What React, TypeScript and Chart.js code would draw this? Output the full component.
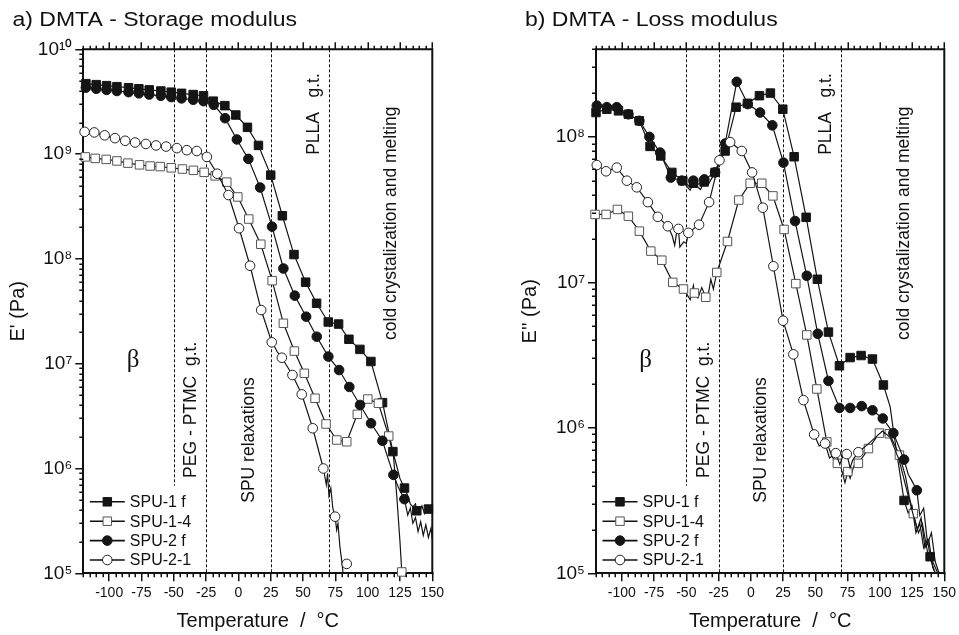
import React, { useEffect, useRef } from 'react';
import { Chart, registerables } from 'chart.js';

Chart.register(...registerables);
Chart.defaults.font.family = '"Liberation Sans", Arial, Helvetica, sans-serif';
Chart.defaults.color = '#111';

// ---------------- data: a) storage modulus E' (Pa) ----------------
// markers (T in °C, value in Pa)
const E1_S1F_T = [-118, -110, -102, -94, -85, -77, -69, -60, -52, -44, -35, -27, -19.5, -10.5, -2, 7, 15.5, 25, 34, 43, 52, 60.5, 69.5, 77.5, 85.5, 94, 102.5, 111.5, 119.5, 128.5, 138, 147];
const E1_S1F_V = [4.7e9, 4.6e9, 4.5e9, 4.4e9, 4.3e9, 4.2e9, 4.1e9, 4.0e9, 3.9e9, 3.8e9, 3.7e9, 3.6e9, 3.2e9, 2.9e9, 2.36e9, 1.8e9, 1.21e9, 6.3e8, 2.58e8, 1.1e8, 6.0e7, 3.77e7, 2.5e7, 2.39e7, 1.71e7, 1.37e7, 1.05e7, 4.25e6, 1.45e6, 6.5e5, 3.95e5, 4.1e5];
const E1_S1F_TR_T = [123, 125, 131, 133, 135, 137, 140, 142, 144, 150];
const E1_S1F_TR_V = [1.0e6, 8.0e5, 5.5e5, 4.6e5, 4.3e5, 4.6e5, 3.9e5, 4.4e5, 3.7e5, 4.3e5];

const E1_S14_T = [-118.5, -110.8, -102.3, -94, -85.5, -76.5, -68.3, -60.5, -52, -43.3, -34.8, -26.5, -18, -9, -0.5, 8, 17.3, 26.1, 34.8, 43.3, 51, 59.3, 67.8, 76.1, 83.8, 92, 100.1, 108.3, 116.3, 126.4];
const E1_S14_V = [9.4e8, 9.1e8, 8.9e8, 8.6e8, 8.2e8, 7.9e8, 7.7e8, 7.6e8, 7.4e8, 7.2e8, 7.0e8, 6.7e8, 6.2e8, 5.4e8, 3.9e8, 2.4e8, 1.38e8, 6.2e7, 2.43e7, 1.32e7, 8.1e6, 4.68e6, 2.66e6, 1.87e6, 1.8e6, 3.29e6, 4.6e6, 4.19e6, 2.04e6, 1.03e5];
const E1_S14_TR_T = [120, 122.5, 125];
const E1_S14_TR_V = [1.3e6, 5.5e5, 2.0e5];

const E1_S2F_T = [-118, -110, -102, -94, -85, -77, -69, -60, -52, -44, -35, -27, -19, -10.3, -1.2, 7.7, 16.8, 26, 34.8, 43.6, 52.4, 60.6, 69.6, 77.9, 85.8, 94.1, 102.6, 111.4, 119.9, 128.4];
const E1_S2F_V = [4.3e9, 4.2e9, 4.1e9, 4.0e9, 3.9e9, 3.8e9, 3.7e9, 3.6e9, 3.5e9, 3.4e9, 3.3e9, 3.2e9, 2.95e9, 2.2e9, 1.38e9, 9.0e8, 4.8e8, 2.03e8, 8.1e7, 4.46e7, 2.81e7, 1.81e7, 1.17e7, 8.7e6, 6.0e6, 4.04e6, 2.7e6, 1.84e6, 8.7e5, 5.1e5];
const E1_S2F_TR_T = [124, 131, 133, 135, 137, 139, 141, 143, 145, 147, 149, 150];
const E1_S2F_TR_V = [6.5e5, 3.6e5, 4.2e5, 3.0e5, 3.4e5, 2.5e5, 3.1e5, 2.3e5, 2.9e5, 2.2e5, 2.7e5, 2.1e5];

const E1_S21_T = [-119, -111.5, -103.5, -95.5, -87.6, -79.9, -71.6, -63.7, -55.9, -47.6, -39.9, -32.2, -24.4, -16.4, -7.7, 0.5, 9, 17.6, 25.8, 33.6, 41.8, 49, 57.5, 65.7, 74.8, 83.8];
const E1_S21_V = [1.63e9, 1.61e9, 1.51e9, 1.42e9, 1.34e9, 1.29e9, 1.25e9, 1.21e9, 1.18e9, 1.14e9, 1.09e9, 1.07e9, 9.4e8, 6.5e8, 4.07e8, 1.96e8, 8.6e7, 3.25e7, 1.6e7, 1.14e7, 7.8e6, 5.1e6, 2.42e6, 1.0e6, 3.47e5, 1.23e5];
const E1_S21_TR_T = [28, 30, 68, 69, 70, 71.5, 73, 76, 77, 78.5, 80, 81, 82];
const E1_S21_TR_V = [1.45e7, 1.3e7, 7.0e5, 9.0e5, 5.5e5, 6.5e5, 4.2e5, 2.6e5, 3.0e5, 1.8e5, 1.3e5, 1.0e5, null];

// ---------------- data: b) loss modulus E'' (Pa) ----------------
const E2_S1F_T = [-120, -111.6, -102.6, -94.9, -86.4, -78.1, -69.8, -61.2, -52.7, -44.5, -36.2, -27.7, -19.9, -11.4, -2.6, 6.7, 15.2, 24.8, 33.6, 42.9, 51.6, 60.2, 68.7, 77, 85.5, 94.3, 102.8, 118.8, 139];
const E2_S1F_V = [1.47e8, 1.55e8, 1.51e8, 1.43e8, 1.29e8, 8.6e7, 7.4e7, 5.7e7, 5.0e7, 4.8e7, 4.9e7, 5.7e7, 8.0e7, 1.6e8, 1.7e8, 1.92e8, 2.0e8, 1.55e8, 7.3e7, 2.8e7, 1.05e7, 4.55e6, 2.67e6, 3.04e6, 3.14e6, 2.97e6, 1.97e6, 3.17e5, 1.3e5];
const E2_S1F_TR_T = [-49, -47, -42, -39, -33, 108, 111, 114, 122, 125, 128, 131, 134, 137, 142, 145];
const E2_S1F_TR_V = [4.5e7, 4.3e7, 4.6e7, 4.35e7, 4.7e7, 1.4e6, 9.0e5, 6.0e5, 2.6e5, 2.9e5, 1.9e5, 2.2e5, 1.5e5, 1.7e5, 1.15e5, 1.0e5];

const E2_S14_T = [-120.7, -112.2, -103.4, -94.9, -86.4, -77.5, -69, -60.5, -52.2, -43.7, -34.9, -26.4, -18.1, -9.3, -0.5, 8.5, 17.1, 25.8, 34.9, 43.4, 51.2, 58.9, 67.1, 75.2, 83.4, 91.2, 99.7, 107.4, 115.2, 126];
const E2_S14_V = [2.93e7, 2.93e7, 3.17e7, 2.85e7, 2.25e7, 1.64e7, 1.42e7, 1.0e7, 9.0e6, 8.45e6, 7.9e6, 1.17e7, 1.91e7, 3.68e7, 4.8e7, 4.8e7, 3.93e7, 2.31e7, 9.8e6, 4.35e6, 1.85e6, 8.0e5, 5.7e5, 5.0e5, 5.7e5, 7.2e5, 9.2e5, 9.1e5, 6.5e5, 2.57e5];
const E2_S14_TR_T = [-47, -44.5, -41, -38, -33, -31, -29, 63, 70, 73, 77, 80, 120, 123, 129, 132, 135, 138, 141, 143];
const E2_S14_TR_V = [7.6e6, 9.5e6, 7.8e6, 9.2e6, 8.2e6, 1.05e7, 9.0e6, 6.3e5, 5.3e5, 4.2e5, 4.5e5, 5.5e5, 4.6e5, 3.3e5, 2.0e5, 2.4e5, 1.5e5, 1.7e5, 1.1e5, 1.0e5];

const E2_S2F_T = [-119.4, -111.6, -103.9, -94.9, -86.4, -78.6, -70.3, -62, -53.5, -44.5, -36, -27.7, -19.9, -10.9, -2.3, 7.2, 16.7, 25.3, 34.3, 43.4, 51.9, 60.2, 68.7, 77, 86, 94.3, 102.3, 110.5, 118.8, 128.7];
const E2_S2F_V = [1.64e8, 1.6e8, 1.6e8, 1.43e8, 1.29e8, 1.0e8, 7.8e7, 5.25e7, 5.0e7, 5.0e7, 5.1e7, 5.7e7, 9.0e7, 2.39e8, 1.68e8, 1.47e8, 1.2e8, 6.65e7, 2.64e7, 1.11e7, 4.43e6, 2.1e6, 1.37e6, 1.37e6, 1.41e6, 1.32e6, 1.16e6, 9.2e5, 6.05e5, 3.72e5];
const E2_S2F_TR_T = [-48, -41, 122, 125, 131, 134, 137, 140, 143, 146];
const E2_S2F_TR_V = [4.6e7, 4.7e7, 4.8e5, 4.3e5, 2.5e5, 2.8e5, 1.6e5, 1.9e5, 1.2e5, 1.0e5];

const E2_S21_T = [-119.4, -112.2, -103.9, -96.1, -88.4, -79.8, -72.1, -64.3, -56.1, -48.4, -40.1, -32.3, -24.3, -16, -7, 1, 9.3, 17.5, 25, 33, 40.8, 49.1, 57.6, 65.9, 74.4, 83.4];
const E2_S21_V = [6.4e7, 5.8e7, 6.15e7, 5.0e7, 4.5e7, 3.56e7, 2.82e7, 2.43e7, 2.33e7, 2.19e7, 2.49e7, 3.56e7, 6.9e7, 9.2e7, 8.0e7, 5.7e7, 3.26e7, 1.29e7, 5.45e6, 3.2e6, 1.55e6, 9.0e5, 7.8e5, 6.7e5, 6.6e5, 6.8e5];
const E2_S21_TR_T = [-61, -59, -57.5, -55, -52, -50, 53, 61, 69, 71, 77, 79, 90, 96, 102, 108, 115, 120, 126, 130, 133, 137, 140, 143];
const E2_S21_TR_V = [2.1e7, 1.8e7, 2.2e7, 1.75e7, 1.9e7, 1.85e7, 7.5e5, 6.2e5, 5.6e5, 6.3e5, 5.3e5, 6.0e5, 7.6e5, 8.5e5, 9.5e5, 8.6e5, 6.0e5, 4.0e5, 2.5e5, 1.9e5, 2.2e5, 1.4e5, 1.2e5, 1.0e5];

// ---------------- labels / ticks ----------------
const SERIES_LABELS = ['SPU-1 f', 'SPU-1-4', 'SPU-2 f', 'SPU-2-1'];
const X_TICKS = [-100, -75, -50, -25, 0, 25, 50, 75, 100, 125, 150];
const Y1_TICKS = [1e5, 1e6, 1e7, 1e8, 1e9, 1e10];
const Y2_TICKS = [1e5, 1e6, 1e7, 1e8];
const DASH_T = [-50, -25, 25, 70];
const NOTE_TEXT = ['PEG - PTMC  g.t.', 'SPU relaxations', 'PLLA   g.t.', 'cold crystalization and melting'];
const NOTE_T = [-32.5, 12, 62, 122.3];
const BETA_TEXT = 'β';
const BETA_T = -81.5;

// ---------------- styles ----------------
const STYLES = [
  { shape: 'rect', fill: '#151515', stroke: '#151515', r: 6 },
  { shape: 'rect', fill: '#ffffff', stroke: '#555555', r: 6 },
  { shape: 'circle', fill: '#151515', stroke: '#151515', r: 4.8 },
  { shape: 'circle', fill: '#ffffff', stroke: '#222222', r: 4.8 },
];
const DASH_TO = [0.833, 1, 1, 1];
const NOTE_YF = [0.688, 0.7456, 0.1235, 0.332];
const BETA_YF = 0.594;
const FONT = '"Liberation Sans", Arial, Helvetica, sans-serif';
const SUP: Record<string, string> = { '0': '⁰', '1': '¹', '2': '²', '3': '³', '4': '⁴', '5': '⁵', '6': '⁶', '7': '⁷', '8': '⁸', '9': '⁹' };

function supLabel(v: number) {
  const e = String(Math.round(Math.log10(v)));
  return '10' + e.split('').map((c) => SUP[c]).join('');
}

function merge(mT: number[], mV: number[], tT: number[], tV: (number | null)[]) {
  const pts: any[] = mT.map((x, i) => ({ x, y: mV[i], m: 1 }));
  tT.forEach((x, i) => pts.push({ x, y: tV[i], m: 0 }));
  pts.sort((a, b) => a.x - b.x);
  return pts;
}

const PANEL1 = {
  title: 'a) DMTA - Storage modulus',
  titleX: 12.5,
  yTitle: "E' (Pa)",
  yTitlePad: 6.5,
  yWidth: 83.3,
  padRight: 47.7,
  yMax: 1e10,
  yTicks: Y1_TICKS,
  series: [
    merge(E1_S1F_T, E1_S1F_V, E1_S1F_TR_T, E1_S1F_TR_V),
    merge(E1_S14_T, E1_S14_V, E1_S14_TR_T, E1_S14_TR_V),
    merge(E1_S2F_T, E1_S2F_V, E1_S2F_TR_T, E1_S2F_TR_V),
    merge(E1_S21_T, E1_S21_V, E1_S21_TR_T, E1_S21_TR_V),
  ],
};

const PANEL2 = {
  title: 'b) DMTA - Loss modulus',
  titleX: 45,
  yTitle: "E'' (Pa)",
  yTitlePad: 38,
  yWidth: 116,
  padRight: 14.7,
  yMax: 4e8,
  yTicks: Y2_TICKS,
  series: [
    merge(E2_S1F_T, E2_S1F_V, E2_S1F_TR_T, E2_S1F_TR_V),
    merge(E2_S14_T, E2_S14_V, E2_S14_TR_T, E2_S14_TR_V),
    merge(E2_S2F_T, E2_S2F_V, E2_S2F_TR_T, E2_S2F_TR_V),
    merge(E2_S21_T, E2_S21_V, E2_S21_TR_T, E2_S21_TR_V),
  ],
};

function drawMarker(ctx: CanvasRenderingContext2D, st: any, x: number, y: number) {
  ctx.fillStyle = st.fill;
  ctx.strokeStyle = st.stroke;
  ctx.lineWidth = 1;
  ctx.beginPath();
  if (st.shape === 'rect') {
    const s = st.r * Math.SQRT1_2;
    ctx.rect(x - s, y - s, 2 * s, 2 * s);
  } else {
    ctx.arc(x, y, st.r, 0, Math.PI * 2);
  }
  ctx.fill();
  ctx.stroke();
}

function makeDecor(cfg: any) {
  return {
    id: 'decor',
    beforeDatasetsDraw(chart: any) {
      const { ctx, chartArea: a, scales } = chart;
      const xs = scales.x;
      ctx.save();
      ctx.strokeStyle = '#111';
      ctx.lineWidth = 1;
      ctx.setLineDash([3, 2]);
      DASH_T.forEach((t, i) => {
        const px = Math.round(xs.getPixelForValue(t)) + 0.5;
        ctx.beginPath();
        ctx.moveTo(px, a.top);
        ctx.lineTo(px, a.top + DASH_TO[i] * (a.bottom - a.top));
        ctx.stroke();
      });
      ctx.restore();
    },
    afterDraw(chart: any) {
      const { ctx, chartArea: a, scales } = chart;
      const xs = scales.x;
      const ys = scales.y;
      const h = a.bottom - a.top;
      ctx.save();
      ctx.strokeStyle = '#111';
      ctx.lineWidth = 2;
      ctx.beginPath();
      ctx.moveTo(a.left - 1, a.top);
      ctx.lineTo(a.right, a.top);
      ctx.lineTo(a.right, a.bottom + 1);
      ctx.stroke();

      // x minor ticks + top ticks
      ctx.lineWidth = 1.5;
      for (let t = -120; t <= 150; t += 5) {
        const px = Math.round(xs.getPixelForValue(t)) + 0.25;
        const major = t % 25 === 0 && t >= -100;
        ctx.beginPath();
        ctx.moveTo(px, a.top);
        ctx.lineTo(px, a.top - (major ? 7 : 3.5));
        if (!major) {
          ctx.moveTo(px, a.bottom);
          ctx.lineTo(px, a.bottom + 4);
        }
        ctx.stroke();
      }
      // y minor ticks
      for (let d = 5; d <= 10; d++) {
        for (let k = 2; k <= 9; k++) {
          const v = k * Math.pow(10, d);
          if (v > cfg.yMax * 1.0001) continue;
          const py = Math.round(ys.getPixelForValue(v)) + 0.25;
          ctx.beginPath();
          ctx.moveTo(a.left, py);
          ctx.lineTo(a.left - 4, py);
          ctx.stroke();
        }
      }

      // panel title
      ctx.fillStyle = '#111';
      ctx.font = '20px ' + FONT;
      ctx.textAlign = 'left';
      ctx.textBaseline = 'alphabetic';
      ctx.save();
      ctx.translate(cfg.titleX, 26);
      ctx.scale(1.15, 1);
      ctx.fillText(cfg.title, 0, 0);
      ctx.restore();

      // rotated notes
      ctx.font = '17.5px ' + FONT;
      NOTE_TEXT.forEach((txt, i) => {
        ctx.save();
        ctx.translate(xs.getPixelForValue(NOTE_T[i]), a.top + NOTE_YF[i] * h);
        ctx.rotate(-Math.PI / 2);
        ctx.textAlign = 'center';
        ctx.textBaseline = 'alphabetic';
        ctx.fillText(txt, 0, 0);
        ctx.restore();
      });

      // beta
      ctx.font = '25px "Liberation Serif", "DejaVu Serif", serif';
      ctx.textAlign = 'center';
      ctx.textBaseline = 'middle';
      ctx.fillText(BETA_TEXT, xs.getPixelForValue(BETA_T), a.top + BETA_YF * h);

      // legend
      ctx.font = '16px ' + FONT;
      ctx.textAlign = 'left';
      ctx.textBaseline = 'middle';
      chart.data.datasets.forEach((ds: any, i: number) => {
        const y = a.bottom - 13.3 - (3 - i) * 19.4;
        ctx.strokeStyle = '#111';
        ctx.lineWidth = 1.6;
        ctx.beginPath();
        ctx.moveTo(a.left + 6.5, y);
        ctx.lineTo(a.left + 41.5, y);
        ctx.stroke();
        drawMarker(ctx, STYLES[i], a.left + 24, y);
        ctx.fillStyle = '#111';
        ctx.fillText(ds.label, a.left + 46.5, y + 1);
      });
      ctx.restore();
    },
  };
}

function makeConfig(cfg: any): any {
  return {
    type: 'line',
    data: {
      datasets: cfg.series.map((pts: any[], i: number) => ({
        label: SERIES_LABELS[i],
        data: pts,
        borderColor: '#151515',
        borderWidth: 1.2,
        tension: 0,
        spanGaps: false,
        pointStyle: STYLES[i].shape,
        pointRadius: (c: any) => (c.raw && c.raw.m ? STYLES[i].r : 0),
        pointHoverRadius: 0,
        pointBackgroundColor: STYLES[i].fill,
        pointBorderColor: STYLES[i].stroke,
        pointBorderWidth: 1,
        clip: 8,
        order: 3 - i,
      })),
    },
    options: {
      responsive: false,
      animation: false,
      events: [],
      layout: { padding: { left: 0, top: 49.3, right: cfg.padRight, bottom: 0 } },
      plugins: {
        legend: { display: false },
        tooltip: { enabled: false },
        title: { display: false },
      },
      scales: {
        x: {
          type: 'linear',
          min: -120,
          max: 150,
          afterFit: (s: any) => {
            s.height = 61.7;
          },
          afterBuildTicks: (s: any) => {
            s.ticks = X_TICKS.map((v) => ({ value: v }));
          },
          grid: { display: true, drawOnChartArea: false, drawTicks: true, tickLength: 8, color: '#111', lineWidth: 1.5 },
          border: { display: true, color: '#111', width: 2 },
          ticks: { font: { size: 14, family: FONT }, color: '#111', padding: 3, maxRotation: 0, autoSkip: false, callback: (v: any) => String(v) },
          title: { display: true, text: 'Temperature  /  °C', font: { size: 20, family: FONT, lineHeight: 1.2 }, color: '#111', padding: { top: 0, bottom: 1.5 } },
        },
        y: {
          type: 'logarithmic',
          min: 1e5,
          max: cfg.yMax,
          afterFit: (s: any) => {
            s.width = cfg.yWidth;
          },
          afterBuildTicks: (s: any) => {
            s.ticks = cfg.yTicks.map((v: number) => ({ value: v }));
          },
          grid: { display: true, drawOnChartArea: false, drawTicks: true, tickLength: 8, color: '#111', lineWidth: 1.5 },
          border: { display: true, color: '#111', width: 2 },
          ticks: { font: { size: 19, family: FONT }, color: '#111', padding: 3, autoSkip: false, callback: (v: any) => supLabel(Number(v)) },
          title: { display: true, text: cfg.yTitle, font: { size: 20, family: FONT, lineHeight: 1.2 }, color: '#111', padding: { top: cfg.yTitlePad, bottom: 0 } },
        },
      },
    },
    plugins: [makeDecor(cfg)],
  };
}

function Panel({ cfg, left, width }: { cfg: any; left: number; width: number }) {
  const ref = useRef<HTMLCanvasElement>(null);
  useEffect(() => {
    const chart = new Chart(ref.current as HTMLCanvasElement, makeConfig(cfg));
    return () => chart.destroy();
  }, [cfg]);
  return (
    <canvas
      ref={ref}
      width={width}
      height={635}
      style={{ position: 'absolute', left, top: 0, width, height: 635, display: 'block' }}
    />
  );
}

export default function App() {
  return (
    <div style={{ position: 'fixed', left: 0, top: 0, width: 959, height: 635, background: '#fff', overflow: 'hidden' }}>
      <Panel cfg={PANEL1} left={0} width={480} />
      <Panel cfg={PANEL2} left={480} width={479} />
    </div>
  );
}
